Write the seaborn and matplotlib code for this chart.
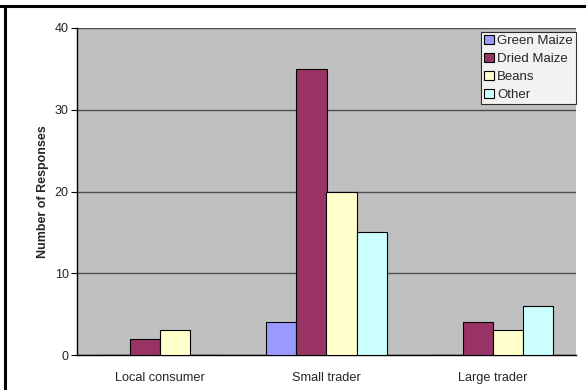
import matplotlib
matplotlib.use("Agg")
import matplotlib.pyplot as plt
from matplotlib.lines import Line2D
import seaborn as sns
import pandas as pd

categories = ["Local consumer", "Small trader", "Large trader"]
series = ["Green Maize", "Dried Maize", "Beans", "Other"]
green_maize = [0, 4, 0]
dried_maize = [2, 35, 4]
beans = [3, 20, 3]
other = [0, 15, 6]
colors = ["#9999FF", "#993366", "#FFFFCC", "#CCFFFF"]

rows = []
for name, vals in zip(series, [green_maize, dried_maize, beans, other]):
    for cat, v in zip(categories, vals):
        rows.append({"Category": cat, "Series": name, "Responses": v})
df = pd.DataFrame(rows)

sns.set_style("white")
plt.rcParams["font.family"] = ["Liberation Sans", "DejaVu Sans"]

fig = plt.figure(figsize=(5.86, 3.90), dpi=100)
ax = fig.add_axes([77 / 586, 1 - 355 / 390, (576 - 77) / 586, (355 - 28) / 390])
ax.set_facecolor("#C0C0C0")

sns.barplot(data=df, x="Category", y="Responses", hue="Series",
            hue_order=series, order=categories, palette=colors,
            width=4 / 5.5, gap=0, edgecolor="black", linewidth=0.8,
            saturation=1, ax=ax, zorder=3)

ax.set_xlim(-0.5, 2.5)
ax.set_ylim(0, 40)
ax.set_yticks([0, 10, 20, 30, 40])
ax.yaxis.grid(True, color="#4d4d4d", linewidth=1, zorder=0)
ax.set_axisbelow(True)

# category ticks sit on the boundaries between groups
ax.set_xticks([0, 1, 2])
ax.set_xticklabels(categories, fontsize=9.2)
ax.set_xticks([-0.5, 0.5, 1.5, 2.5], minor=True)
ax.tick_params(axis="x", which="major", length=0, pad=12)
ax.tick_params(axis="x", which="minor", length=4, width=0.8, color="black",
               direction="out")
ax.tick_params(axis="y", length=4, width=0.8, color="black", direction="out",
               labelsize=9, pad=2)
ax.tick_params(left=True, bottom=True)

for side in ["top", "right"]:
    ax.spines[side].set_visible(False)
for side in ["left", "bottom"]:
    ax.spines[side].set_color("black")
    ax.spines[side].set_linewidth(1)

ax.set_xlabel("")
ax.set_ylabel("Number of Responses", fontsize=9, fontweight="bold", labelpad=4)

leg = ax.legend(loc="upper right", bbox_to_anchor=(1.0, 0.988), fontsize=9.5,
                frameon=True, fancybox=False, edgecolor="black",
                handlelength=0.7, handleheight=0.7, handletextpad=0.25,
                borderpad=0.25, labelspacing=0.42, borderaxespad=0.0)
leg.get_frame().set_linewidth(0.8)
leg.get_frame().set_facecolor("white")

# outer chart frame (top and left edges)
fig.add_artist(Line2D([0, 1], [1 - 6 / 390, 1 - 6 / 390], color="black",
                      linewidth=2.2, transform=fig.transFigure))
fig.add_artist(Line2D([5 / 586, 5 / 586], [0, 1 - 6 / 390], color="black",
                      linewidth=2.2, transform=fig.transFigure))

fig.savefig("out.png", dpi=100, facecolor="white")
